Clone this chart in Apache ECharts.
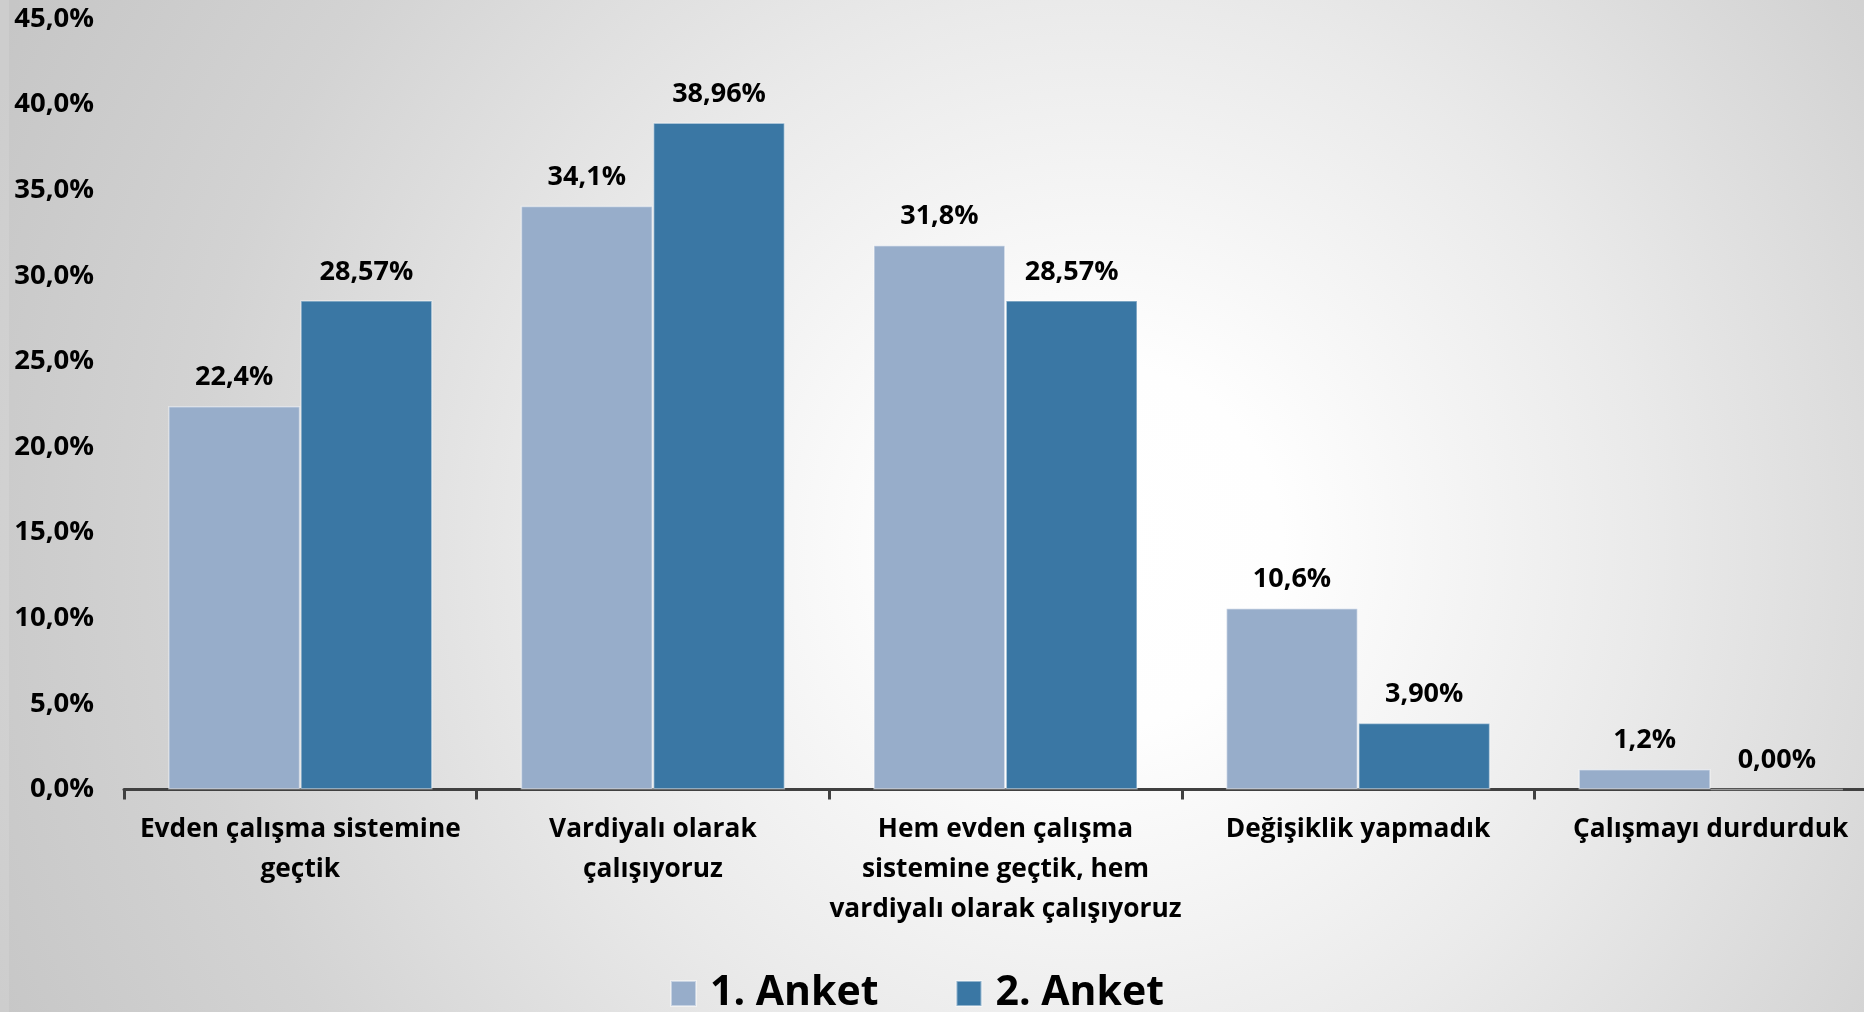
<!DOCTYPE html>
<html>
<head>
<meta charset="utf-8">
<script src="https://cdn.jsdelivr.net/npm/echarts@6/dist/echarts.min.js"></script>
<style>
html,body{margin:0;padding:0;width:1864px;height:1012px;overflow:hidden;}
#chart{width:1887px;height:1012px;}
</style>
</head>
<body>
<div id="chart"></div>
<script>
var categories = [
  "Evden çalışma sistemine\ngeçtik",
  "Vardiyalı olarak\nçalışıyoruz",
  "Hem evden çalışma\nsistemine geçtik, hem\nvardiyalı olarak çalışıyoruz",
  "Değişiklik yapmadık",
  "Çalışmayı durdurduk"
];
var seriesNames = ["1. Anket", "2. Anket"];
var anket1 = [22.4, 34.1, 31.8, 10.6, 1.2];
var anket2 = [28.57, 38.96, 28.57, 3.90, 0.00];
var yTicks = { min: 0, max: 45, interval: 5 };

var FONT = "'Open Sans', 'Noto Sans', sans-serif";
var chart = echarts.init(document.getElementById('chart'));

function pct(v, d) { return v.toFixed(d).replace('.', ',') + '%'; }

var option = {
  backgroundColor: {
    type: 'radial', x: 0.583, y: 0.54, r: 1.2,
    colorStops: [
      { offset: 0, color: '#ffffff' },
      { offset: 0.15, color: '#fefefe' },
      { offset: 0.45, color: '#eaeaea' },
      { offset: 0.75, color: '#d3d3d3' },
      { offset: 1, color: '#c6c6c6' }
    ]
  },
  textStyle: { fontFamily: FONT },
  graphic: [{
    type: 'rect', left: 0, top: 0, z: -1,
    shape: { width: 9, height: 1012 },
    style: { fill: 'rgba(255,255,255,0.12)' }
  }],
  grid: { left: 124, right: 0, top: 19, bottom: 222.5, containLabel: false },
  legend: {
    data: seriesNames,
    left: 665, top: 968,
    itemWidth: 25, itemHeight: 25, itemGap: 77,
    icon: 'rect',
    textStyle: { fontFamily: FONT, fontSize: 41, fontWeight: 'bold', color: '#000', padding: [0, 0, 0, 9] }
  },
  xAxis: {
    type: 'category',
    data: categories,
    axisLine: { lineStyle: { color: '#404040', width: 3 } },
    axisTick: { show: true, length: 10, lineStyle: { color: '#404040', width: 3 } },
    axisLabel: {
      interval: 0, margin: 20, color: '#000', fontFamily: FONT,
      fontSize: 26.3, fontWeight: 'bold', lineHeight: 40
    }
  },
  yAxis: {
    type: 'value',
    min: yTicks.min, max: yTicks.max, interval: yTicks.interval,
    axisLine: { show: false },
    axisTick: { show: false },
    splitLine: { show: false },
    axisLabel: {
      margin: 30, color: '#000', fontFamily: FONT, fontSize: 27.5, fontWeight: 'bold',
      formatter: function (v) { return pct(v, 1); }
    }
  },
  series: [
    {
      name: seriesNames[0], type: 'bar', data: anket1,
      barCategoryGap: '25%', barGap: '0%',
      itemStyle: { color: '#97adca', borderColor: 'rgba(255,255,255,0.45)', borderWidth: 1.5 },
      label: {
        show: true, position: 'top', distance: 15, color: '#000',
        fontFamily: FONT, fontSize: 27, fontWeight: 'bold',
        formatter: function (p) { return pct(p.value, 1); }
      }
    },
    {
      name: seriesNames[1], type: 'bar', data: anket2,
      barCategoryGap: '25%', barGap: '0%',
      itemStyle: { color: '#3a77a4', borderColor: 'rgba(255,255,255,0.45)', borderWidth: 1.5 },
      label: {
        show: true, position: 'top', distance: 15, color: '#000',
        fontFamily: FONT, fontSize: 27, fontWeight: 'bold',
        formatter: function (p) { return pct(p.value, 2); }
      }
    }
  ]
};
chart.setOption(option);
</script>
</body>
</html>
